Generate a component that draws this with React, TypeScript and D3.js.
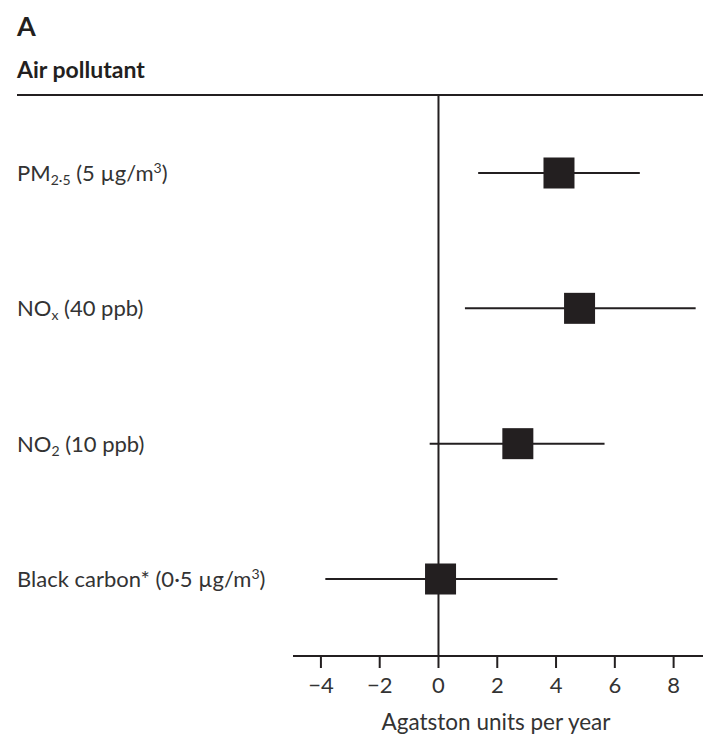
import React from 'react';
import { scaleLinear, scalePoint } from 'd3';

const pollutants = ['PM', 'NO', 'NO', 'Black carbon*'];
const pollutantSubs = ['2·5', 'x', '2', ''];
const increments = ['5 µg/m', '40 ppb', '10 ppb', '0·5 µg/m'];
const incrementSups = ['3', '', '', '3'];
const estimates = [4.1, 4.8, 2.7, 0.07];
const lowerCI = [1.35, 0.9, -0.3, -3.85];
const upperCI = [6.85, 8.75, 5.65, 4.05];
const xTicks = [-4, -2, 0, 2, 4, 6, 8];

const W = 703;
const H = 736;
const ink = '#231f20';
const font = 'Lato, "Open Sans", sans-serif';

function App() {
  const x = scaleLinear().domain([-4.95, 9]).range([293, W]);
  const y = scalePoint<number>()
    .domain(pollutants.map((_, i) => i))
    .range([173, 579]);

  const topY = 95;
  const axisY = 656;
  const box = 31;

  return (
    <svg
      width={W}
      height={H}
      style={{ position: 'absolute', left: 0, top: 0, background: '#fff' }}
      fontFamily={font}
    >
      <text x={17} y={36} fontSize={27} fontWeight="bold" fill={ink}>A</text>
      <text x={17} y={78} fontSize={23} fontWeight="bold" fill={ink}>Air pollutant</text>
      <line x1={17} x2={W} y1={topY} y2={topY} stroke={ink} strokeWidth={2.2} />

      {/* zero line */}
      <line x1={x(0)} x2={x(0)} y1={topY} y2={axisY} stroke={ink} strokeWidth={2} />

      {pollutants.map((p, i) => (
        <text key={'lab' + i} x={17} y={(y(i) as number) + 8} fontSize={22} fill="#333">
          {p}
          {pollutantSubs[i] && (
            <tspan fontSize={14} dy={4}>{pollutantSubs[i]}</tspan>
          )}
          <tspan dy={pollutantSubs[i] ? -4 : 0}>{' (' + increments[i]}</tspan>
          {incrementSups[i] && (
            <tspan fontSize={14} dy={-8}>{incrementSups[i]}</tspan>
          )}
          <tspan dy={incrementSups[i] ? 8 : 0}>)</tspan>
        </text>
      ))}

      {estimates.map((e, i) => {
        const cy = y(i) as number;
        return (
          <g key={'row' + i}>
            <line x1={x(lowerCI[i])} x2={x(upperCI[i])} y1={cy} y2={cy} stroke={ink} strokeWidth={2} />
            <rect x={x(e) - box / 2} y={cy - box / 2} width={box} height={box} fill={ink} />
          </g>
        );
      })}

      {/* x axis */}
      <line x1={x.range()[0]} x2={x.range()[1]} y1={axisY} y2={axisY} stroke={ink} strokeWidth={2} />
      {xTicks.map(t => (
        <g key={'t' + t} transform={`translate(${x(t)},${axisY})`}>
          <line y1={0} y2={12} stroke={ink} strokeWidth={2} />
          <text y={37} textAnchor="middle" fontSize={22} fill="#333">
            {t < 0 ? '−' + Math.abs(t) : t}
          </text>
        </g>
      ))}
      <text x={496} y={730} textAnchor="middle" fontSize={22.5} fill="#333">
        Agatston units per year
      </text>
    </svg>
  );
}

export default App;
